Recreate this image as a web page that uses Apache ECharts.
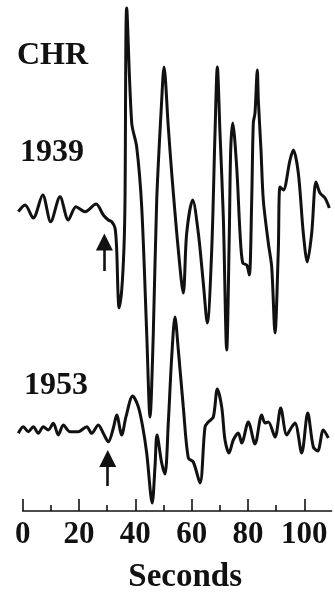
<!DOCTYPE html>
<html>
<head>
<meta charset="utf-8">
<script src="https://cdn.jsdelivr.net/npm/echarts@6/dist/echarts.min.js"></script>
<style>
  html, body { margin: 0; padding: 0; background: #fff; }
  #chart { width: 335px; height: 595px; }
</style>
</head>
<body>
<div id="chart"></div>
<script>
// seismogram traces, time in seconds, amplitude relative to each trace's baseline
const seconds1939 = [-1.56, 0.82, 3.76, 7.1, 9.94, 13.25, 16.19, 18.93, 22.12, 26.03, 28.62, 30.4, 31.61, 32.78, 33.38, 33.84, 34.2, 35.16, 35.97, 36.33, 36.93, 38.71, 40.48, 42.26, 44.03, 45.21, 46.38, 47.59, 49.36, 50.18, 51.7, 52.91, 55.26, 57.03, 58.24, 60.37, 62.36, 64.13, 65.55, 67.12, 68.29, 69.11, 70.06, 71.24, 72.44, 73.37, 73.86, 74.57, 75.99, 77.17, 78.12, 79.55, 80.47, 81.32, 81.89, 82.49, 83.31, 83.67, 84.62, 85.44, 87.22, 88.42, 89.59, 90.77, 91.37, 92.54, 94.92, 96.09, 97.87, 99.64, 101.06, 102.63, 104.15, 105.57, 107.35, 108.88]
const amp1939 = [-1.7, 5, -8, 15, -11.7, 13.3, -10, 3.3, -1.7, 6, -5, -10, -11.7, -18, -40, -83, -98, -80, -37, 10, 202, 87, 63, 3, -123, -207, -123, 10, 110, 143, 83, 37, -40, -83, -23, 10, -23, -73, -113, -40, 77, 143, 77, -7, -140, -23, 60, 87, 43, -23, -53, -55, -65, 10, 87, 97, 140, 110, 60, 10, -33, -57, -123, -40, 23, 20, 50, 60, 37, -23, -52, -23, 28, 17, 12, 2]

const seconds1953 = [-1.56, 0.21, 1.99, 3.76, 5.54, 7.32, 9.09, 10.87, 12.64, 14.42, 16.8, 19.74, 22.73, 24.5, 26.85, 28.62, 30.4, 32.17, 33.38, 35.16, 36.68, 39.06, 41.05, 42.61, 44.03, 45.99, 46.98, 47.69, 49.36, 50.53, 51.7, 52.91, 54.08, 55.26, 57.03, 58.81, 60.59, 62.96, 64.74, 65.91, 67.69, 69.11, 70.67, 71.84, 73.26, 74.79, 76.56, 77.77, 80.11, 82.49, 84.87, 86.04, 87.22, 89.6, 91.62, 93.75, 95.53, 96.7, 99.08, 101.21, 103.2, 104.76, 106.75, 108.52]
const amp1953 = [-3.3, 3.3, -1.7, 3.3, -3.3, 3.3, 0, 6.7, -5, 5, -1.7, -1.7, 3.3, -3.3, 5, -3.3, -11.7, 1.7, 15, -5, 13.3, 34, 23.3, 3.3, -23, -73, -36.7, -5, -33, -44, 7, 73, 113, 80, 23, -28, -32, -53, 3, 8, 13, 41, 23, -10, -23, -10, -3, -13, 8, -14, 15, 7, 8, -7, 22, -5, 3, 7, -23, 17, -17, -21, 0, -8]

// P-wave arrival arrows: time, shaft bottom, arrow head
const arrowSeconds = [29, 30.2]
const arrowFrom = [-61, -56]
const arrowTo = [-32, -28.5]

const majorTicks = [0, 20, 40, 60, 80, 100]
const minorTicks = [10, 30, 50, 70, 90]

const font = "Liberation Serif"
const ink = "#111"

function zip(xs, ys) {
  return xs.map((x, i) => [x, ys[i]])
}

function arrow(i) {
  return {
    symbol: ["none", "triangle"],
    symbolSize: 17,
    silent: true,
    label: { show: false },
    lineStyle: { type: "solid", color: ink, width: 2.6 },
    itemStyle: { color: ink },
    data: [[
      { coord: [arrowSeconds[i], arrowFrom[i]] },
      { coord: [arrowSeconds[i], arrowTo[i]] }
    ]]
  }
}

const chart = echarts.init(document.getElementById("chart"), null, { renderer: "canvas" })

const titleStyle = { fontFamily: font, fontWeight: "bold", fontSize: 32, color: ink }

chart.setOption({
  animation: false,
  backgroundColor: "#fff",
  title: [
    { text: "CHR", left: 17, top: 40, padding: 0, textStyle: titleStyle },
    { text: "1939", left: 20, top: 137, padding: 0, textStyle: titleStyle },
    { text: "1953", left: 24, top: 370, padding: 0, textStyle: titleStyle }
  ],
  grid: [
    { left: 17.07, width: 315.4, top: 0, height: 595 },
    { left: 22.7, width: 308.9, top: 480, bottom: 72.3 }
  ],
  xAxis: [
    { gridIndex: 0, type: "value", min: -2, max: 110, show: false },
    {
      gridIndex: 1, type: "value", min: 0, max: 109.7, position: "bottom",
      axisLine: { lineStyle: { color: ink, width: 1.6 } },
      axisTick: { inside: true, length: 12, customValues: majorTicks, lineStyle: { color: ink, width: 1.6 } },
      axisLabel: {
        customValues: majorTicks, margin: 8,
        fontFamily: font, fontWeight: "bold", fontSize: 31, color: ink
      },
      splitLine: { show: false },
      name: "Seconds", nameLocation: "middle", nameGap: 50,
      nameTextStyle: { fontFamily: font, fontWeight: "bold", fontSize: 33, color: ink, padding: [0, 0, 0, 16] }
    },
    {
      gridIndex: 1, type: "value", min: 0, max: 109.7, position: "bottom",
      axisLine: { show: false },
      axisTick: { inside: true, length: 6, customValues: minorTicks, lineStyle: { color: ink, width: 1.6 } },
      axisLabel: { show: false },
      splitLine: { show: false }
    }
  ],
  yAxis: [
    { gridIndex: 0, type: "value", min: -385, max: 210, show: false },
    { gridIndex: 0, type: "value", min: -165, max: 430, show: false },
    { gridIndex: 1, type: "value", show: false }
  ],
  series: [
    {
      name: "1939", type: "line", xAxisIndex: 0, yAxisIndex: 0,
      data: zip(seconds1939, amp1939),
      showSymbol: false, smooth: 0.3, clip: false,
      lineStyle: { color: ink, width: 3 },
      markLine: arrow(0)
    },
    {
      name: "1953", type: "line", xAxisIndex: 0, yAxisIndex: 1,
      data: zip(seconds1953, amp1953),
      showSymbol: false, smooth: 0.3, clip: false,
      lineStyle: { color: ink, width: 3 },
      markLine: arrow(1)
    }
  ]
})
</script>
</body>
</html>
